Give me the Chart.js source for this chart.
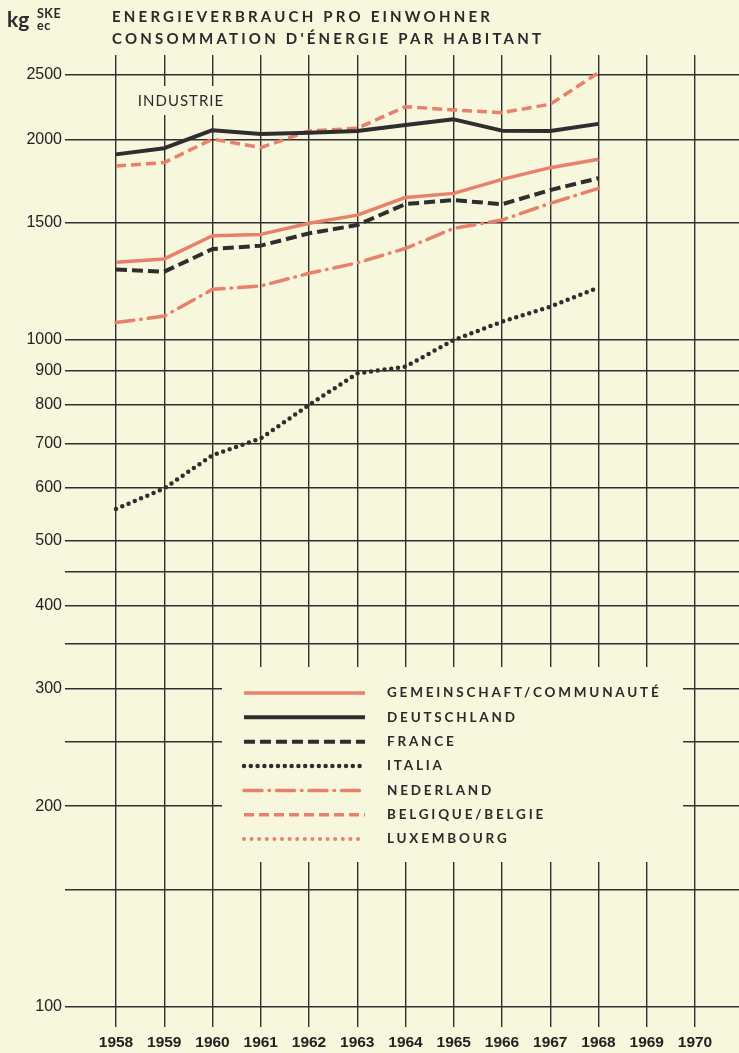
<!DOCTYPE html>
<html lang="de">
<head>
  <meta charset="UTF-8">
  <title>Energieverbrauch pro Einwohner</title>
  <script src="https://cdn.jsdelivr.net/npm/chart.js"></script>
  <style>
    html, body {
      margin: 0;
      padding: 0;
      background: #f6f7dd;
    }

    .wrap {
      position: relative;
      width: 739px;
      height: 1053px;
      overflow: hidden;
    }

    .wrap canvas {
      position: absolute;
      left: 0;
      top: 0;
    }

    .unit {
      position: absolute;
      left: 7px;
      top: 6px;
      font-family: 'Lato', sans-serif;
      font-weight: 700;
      font-size: 21px;
      color: #2a2a2a;
    }

    .unit-sub {
      position: absolute;
      left: 37px;
      top: 8px;
      font-family: 'Lato', sans-serif;
      font-weight: 700;
      font-size: 12.5px;
      line-height: 11.5px;
      letter-spacing: 0.5px;
      color: #2a2a2a;
    }

    .title {
      position: absolute;
      left: 112px;
      top: 5px;
      font-family: 'Lato', sans-serif;
      font-weight: 700;
      font-size: 15px;
      line-height: 22px;
      letter-spacing: 3.2px;
      color: #2a2a2a;
    }
  </style>
</head>

<body>
  <div class="wrap">
    <canvas id="energyChart" width="739" height="1053"></canvas>
    <div class="unit">kg</div>
    <div class="unit-sub">SKE<br>ec</div>
    <div class="title">ENERGIEVERBRAUCH PRO EINWOHNER<br>CONSOMMATION D'ÉNERGIE PAR HABITANT</div>
  </div>

  <script>
    // Daten (kg SKE pro Einwohner, Industrie)
    const years = [1958, 1959, 1960, 1961, 1962, 1963, 1964, 1965, 1966, 1967, 1968];
    const gemeinschaft = [1308, 1323, 1433, 1440, 1496, 1539, 1636, 1659, 1741, 1813, 1866];
    const deutschland = [1898, 1939, 2063, 2037, 2046, 2058, 2101, 2142, 2060, 2058, 2109];
    const france = [1276, 1266, 1369, 1385, 1445, 1487, 1599, 1621, 1598, 1678, 1748];
    const italia = [558, 599, 672, 712, 799, 891, 912, 1000, 1065, 1122, 1198];
    const nederland = [1062, 1086, 1191, 1205, 1259, 1305, 1372, 1470, 1513, 1603, 1688];
    const belgique = [1824, 1845, 2001, 1943, 2058, 2077, 2238, 2213, 2192, 2257, 2516];
    const luxembourg = []; // ausserhalb der Skala

    const seriesNames = ['GEMEINSCHAFT/COMMUNAUTÉ', 'DEUTSCHLAND', 'FRANCE', 'ITALIA',
      'NEDERLAND', 'BELGIQUE/BELGIE', 'LUXEMBOURG'];

    const xTicks = [1958, 1959, 1960, 1961, 1962, 1963, 1964, 1965, 1966, 1967, 1968, 1969, 1970];
    const yTicks = [100, 150, 200, 250, 300, 350, 400, 450, 500, 600, 700, 800, 900, 1000, 1500, 2000, 2500];
    const yLabelled = [100, 200, 300, 400, 500, 600, 700, 800, 900, 1000, 1500, 2000, 2500];

    const BG = '#f6f7dd';
    const RED = '#e8806c';
    const BLACK = '#2e2e2e';

    const toPoints = arr => arr.map((v, i) => ({ x: years[i], y: v }));

    // Lücken im Raster (Legende, Beschriftung "INDUSTRIE")
    const gapPlugin = {
      id: 'gaps',
      beforeDatasetsDraw(chart) {
        const ctx = chart.ctx;
        ctx.save();
        ctx.fillStyle = BG;
        ctx.fillRect(222, 667, 461, 195);
        ctx.fillRect(127, 86, 106, 29);
        ctx.restore();
      }
    };

    const legendPlugin = {
      id: 'paperLegend',
      afterDatasetsDraw(chart) {
        const ctx = chart.ctx;
        ctx.save();
        // Beschriftung im Diagramm
        ctx.fillStyle = '#2a2a2a';
        ctx.font = '15px Lato';
        ctx.letterSpacing = '1px';
        ctx.textAlign = 'center';
        ctx.textBaseline = 'middle';
        ctx.fillText('INDUSTRIE', 181, 101);

        chart.data.datasets.forEach((ds, i) => {
          const y = 693 + i * 24.35;
          ctx.beginPath();
          ctx.strokeStyle = ds.borderColor;
          ctx.lineWidth = ds.borderWidth;
          ctx.lineCap = ds.borderCapStyle || 'butt';
          ctx.setLineDash(ds.borderDash || []);
          ctx.moveTo(244, y);
          ctx.lineTo(365, y);
          ctx.stroke();
          ctx.setLineDash([]);
          ctx.fillStyle = '#2a2a2a';
          ctx.font = 'bold 13.5px Lato';
          ctx.letterSpacing = '2.8px';
          ctx.textAlign = 'left';
          ctx.fillText(ds.label, 387, y);
        });
        ctx.restore();
      }
    };

    const common = { tension: 0, pointRadius: 0, borderJoinStyle: 'round', fill: false };

    new Chart(document.getElementById('energyChart'), {
      type: 'line',
      data: {
        datasets: [
          { ...common, label: seriesNames[0], data: toPoints(gemeinschaft), borderColor: RED, borderWidth: 3.5 },
          { ...common, label: seriesNames[1], data: toPoints(deutschland), borderColor: BLACK, borderWidth: 4 },
          { ...common, label: seriesNames[2], data: toPoints(france), borderColor: BLACK, borderWidth: 4, borderDash: [11, 5] },
          { ...common, label: seriesNames[3], data: toPoints(italia), borderColor: BLACK, borderWidth: 4.5, borderDash: [0, 6.8], borderCapStyle: 'round' },
          { ...common, label: seriesNames[4], data: toPoints(nederland), borderColor: RED, borderWidth: 3.5, borderDash: [18, 7, 0.5, 7], borderCapStyle: 'round' },
          { ...common, label: seriesNames[5], data: toPoints(belgique), borderColor: RED, borderWidth: 3.5, borderDash: [10, 5] },
          { ...common, label: seriesNames[6], data: toPoints(luxembourg), borderColor: RED, borderWidth: 4, borderDash: [0, 7.6], borderCapStyle: 'round' }
        ]
      },
      options: {
        responsive: false,
        animation: false,
        layout: { padding: { top: 55, right: 0, left: 0, bottom: 0 } },
        plugins: {
          legend: { display: false },
          tooltip: { enabled: false },
          title: { display: false }
        },
        scales: {
          x: {
            type: 'linear',
            min: 1956.943,
            max: 1970.912,
            afterBuildTicks: s => { s.ticks = xTicks.map(v => ({ value: v })); },
            afterFit: s => { s.height = 26; },
            border: { display: false },
            grid: { color: '#303030', lineWidth: 1.4, drawTicks: false },
            ticks: {
              autoSkip: false,
              maxRotation: 0,
              padding: 6,
              color: '#222',
              font: { family: 'Liberation Sans', size: 15.5, weight: 'bold' },
              callback: v => String(v)
            }
          },
          y: {
            type: 'logarithmic',
            min: 93.3,
            max: 2675,
            afterBuildTicks: s => { s.ticks = yTicks.map(v => ({ value: v })); },
            afterFit: s => { s.width = 65; },
            border: { display: false },
            grid: { color: '#303030', lineWidth: 1.4, drawTicks: false },
            ticks: {
              autoSkip: false,
              padding: 3,
              color: '#222',
              font: { family: 'Liberation Sans', size: 16 },
              callback: v => yLabelled.includes(v) ? String(v) : ''
            }
          }
        }
      },
      plugins: [gapPlugin, legendPlugin]
    });
  </script>
</body>

</html>
